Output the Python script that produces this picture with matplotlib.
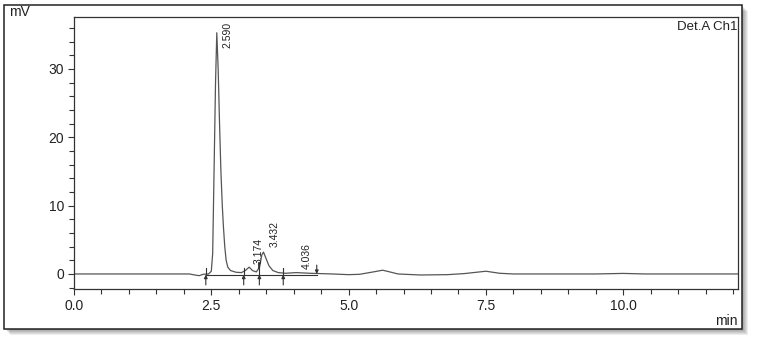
import numpy as np
import matplotlib.pyplot as plt
from matplotlib.patches import Rectangle
from matplotlib.ticker import MultipleLocator

plt.rcParams['font.family'] = ['Liberation Sans', 'DejaVu Sans']

# chromatogram trace (min, mV)
time = [0.0, 2.10, 2.20, 2.28, 2.35, 2.45, 2.50, 2.525, 2.55, 2.577, 2.60,
        2.625, 2.65, 2.675, 2.70, 2.72, 2.745, 2.77, 2.80, 2.85, 2.95, 3.05,
        3.12, 3.19, 3.25, 3.32, 3.38, 3.42, 3.45, 3.49, 3.55, 3.62, 3.72,
        3.85, 4.04, 4.30, 4.70, 5.00, 5.20, 5.45, 5.62, 5.75, 5.90, 6.30,
        6.80, 7.10, 7.50, 7.75, 8.00, 9.50, 10.0, 10.4, 12.1]
signal = [0.0, 0.0, -0.15, -0.25, -0.05, 0.0, 0.4, 3.0, 15.0, 28.0, 35.3,
          30.0, 22.0, 15.0, 10.0, 7.0, 4.0, 2.0, 1.0, 0.5, 0.25, 0.2,
          0.5, 1.0, 0.5, 0.3, 1.0, 2.8, 3.2, 2.4, 1.2, 0.5, 0.2,
          0.1, 0.2, 0.1, 0.0, -0.1, -0.05, 0.3, 0.55, 0.3, 0.0, -0.15,
          -0.1, 0.05, 0.4, 0.1, 0.0, 0.0, 0.08, 0.0, 0.0]

# peak labels: label x, label top (mV)
peak_labels = ['2.590', '3.174', '3.432', '4.036']
label_x = [2.80, 3.36, 3.65, 4.24]
label_top = [36.9, 5.3, 7.8, 4.5]

# integration marks
bound_times = [2.40, 3.09, 3.375, 3.81]
end_time = 4.42

fig = plt.figure(figsize=(7.57, 3.42), dpi=100)

# outer frame with a soft shadow
fx, fy, fw, fh = 4 / 757, 13 / 342, 738 / 757, 324 / 342
for i in range(6):
    off = i + 1
    fig.patches.append(Rectangle((fx + off / 757, fy - off / 342), fw, fh,
                                 transform=fig.transFigure, facecolor='#000000',
                                 alpha=0.07, edgecolor='none', zorder=0))
fig.patches.append(Rectangle((fx, fy), fw, fh, transform=fig.transFigure,
                             facecolor='white', edgecolor='#222222',
                             linewidth=1.1, zorder=1))

ax = fig.add_axes([74 / 757, 1 - 289 / 342, 664 / 757, 272 / 342])
ax.set_zorder(2)
ax.plot(time, signal, color='#555555', linewidth=0.9)

ax.set_xlim(0, 12.09)
ax.set_ylim(-2.2, 37.6)
ax.xaxis.set_major_locator(MultipleLocator(2.5))
ax.xaxis.set_minor_locator(MultipleLocator(0.5))
ax.yaxis.set_major_locator(MultipleLocator(10))
ax.yaxis.set_minor_locator(MultipleLocator(2))
ax.xaxis.set_major_formatter(plt.FormatStrFormatter('%.1f'))
ax.tick_params(which='major', direction='out', length=4, width=0.8,
               color='#333333', labelsize=10, labelcolor='#222222', pad=3)
ax.tick_params(which='minor', direction='out', length=3.5, width=0.8, color='#333333')
for sp in ax.spines.values():
    sp.set_color('#333333')
    sp.set_linewidth(0.9)

# integration baseline and marks
ax.plot([bound_times[0], end_time], [-0.1, -0.1], color='#333333', linewidth=0.8)
for t in bound_times:
    ax.annotate('', xy=(t, -0.1), xytext=(t, -1.6),
                arrowprops=dict(arrowstyle='-|>', color='#333333', lw=0.8,
                                mutation_scale=5, shrinkA=0, shrinkB=0))
    ax.plot([t, t], [-0.1, 0.8], color='#333333', linewidth=0.8)
ax.plot([3.375, 3.375], [0.8, 1.6], color='#333333', linewidth=1.3)
ax.annotate('', xy=(end_time, 0.0), xytext=(end_time, 1.3),
            arrowprops=dict(arrowstyle='-|>', color='#333333', lw=0.8,
                            mutation_scale=5, shrinkA=0, shrinkB=0))

for lab, x, top in zip(peak_labels, label_x, label_top):
    ax.text(x, top, lab, rotation=90, ha='center', va='top',
            fontsize=7.5, color='#222222')

ax.text(0.999, 0.985, 'Det.A Ch1', transform=ax.transAxes, ha='right',
        va='top', fontsize=9.5, color='#222222')
fig.text(9 / 757, 1 - 5 / 342, 'mV', ha='left', va='top', fontsize=10,
         color='#222222')
fig.text(738 / 757, 1 - 321 / 342, 'min', ha='right', va='center',
         fontsize=10, color='#222222')

fig.savefig('out.png', dpi=100)
